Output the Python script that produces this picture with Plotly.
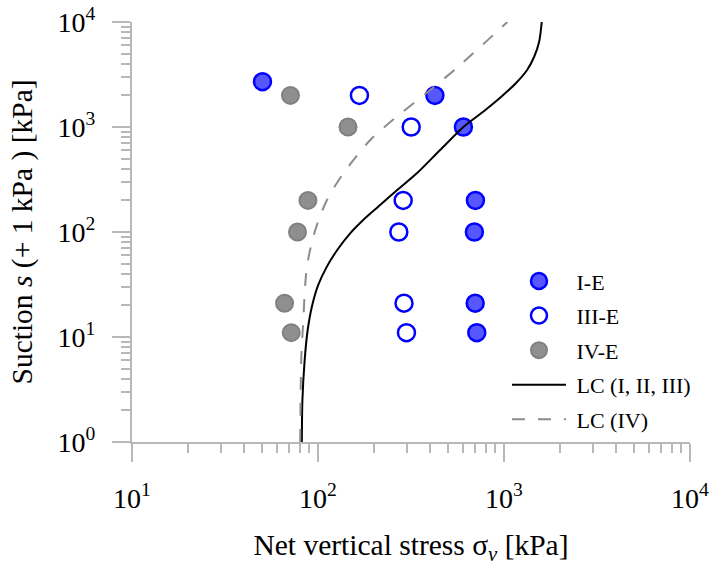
import plotly.graph_objects as go

# ---- data ----
tick_vals = [1, 10, 100, 1000, 10000]
x_tick_text = ["10<sup>0</sup>", "10<sup>1</sup>", "10<sup>2</sup>", "10<sup>3</sup>", "10<sup>4</sup>"]
y_tick_text = ["10<sup>0</sup>", "10<sup>1</sup>", "10<sup>2</sup>", "10<sup>3</sup>", "10<sup>4</sup>"]

ie_stress = [50.3, 425, 605, 702, 693, 700, 714]
ie_suction = [2700, 2000, 1000, 200, 100, 21, 11]

iiie_stress = [167, 317, 287, 272, 290, 299]
iiie_suction = [2000, 1000, 200, 100, 21, 11]

ive_stress = [71.1, 145, 88.3, 77.6, 66.1, 71.8]
ive_suction = [2000, 1000, 200, 100, 21, 11]

lc_stress = [81.85, 82.45, 84.8, 88.0, 92.7, 100.3, 111.6, 126.9, 148.9, 175.0, 210.6,
             266.5, 340.0, 453.6, 605.2, 781.7, 976.8, 1161, 1331, 1451, 1544, 1596]
lc_suction = [1, 2.512, 6.04, 11.66, 19.45, 31.3, 46.8, 67.4, 97.2, 130.2, 174.1,
              251.2, 362.2, 603.9, 1000, 1420, 1974, 2624, 3490, 4642, 6451, 10000]

lc4_stress = [80.2, 81.3, 83.0, 87.2, 96.6, 111.7, 137, 191, 265, 401, 581, 1042]
lc4_suction = [1, 6.27, 12.5, 46.8, 104, 202, 362, 752, 1253, 2250, 3893, 10000]

legend_names = ["I-E", "III-E", "IV-E", "LC (I, II, III)", "LC (IV)"]

FONT = "Liberation Serif"
AX = "#b8b8b8"
NB = "\u00a0"

fig = go.Figure()

fig.add_trace(go.Scatter(
    x=ie_stress, y=ie_suction, mode="markers", name=NB + legend_names[0], legendgroup="a",
    marker=dict(size=17, color="#5757ff", line=dict(color="#0000ff", width=2.5))))
fig.add_trace(go.Scatter(
    x=iiie_stress, y=iiie_suction, mode="markers", name=NB + legend_names[1], legendgroup="b",
    marker=dict(size=17, color="white", line=dict(color="#0000ff", width=2.5))))
fig.add_trace(go.Scatter(
    x=ive_stress, y=ive_suction, mode="markers", name=NB + legend_names[2], legendgroup="c",
    marker=dict(size=17, color="#8f8f8f", line=dict(color="#808080", width=2))))
fig.add_trace(go.Scatter(
    x=lc_stress, y=lc_suction, mode="lines", name=NB + legend_names[3], legendgroup="d",
    line=dict(color="black", width=2, shape="spline", smoothing=0.8)))
fig.add_trace(go.Scatter(
    x=lc4_stress, y=lc4_suction, mode="lines", name=NB + legend_names[4], legendgroup="e",
    line=dict(color="#8c8c8c", width=2, dash="13px,13px", shape="spline", smoothing=0.8)))

axis_common = dict(
    type="log", tickmode="array", tickvals=tick_vals, automargin=False,
    showgrid=False, zeroline=False,
    showline=True, linecolor=AX, linewidth=2,
    ticks="outside", ticklen=18, tickwidth=2, tickcolor=AX,
    tickfont=dict(family=FONT, size=28, color="black"),
    minor=dict(ticks="outside", ticklen=9, tickwidth=1.5, tickcolor=AX, dtick="D1", showgrid=False),
)

fig.update_layout(
    width=713, height=574,
    margin=dict(l=132, r=23, t=22, b=132),
    paper_bgcolor="white", plot_bgcolor="white",
    font=dict(family=FONT, color="black"),
    showlegend=True,
    legend=dict(x=0.672, y=0.433, xanchor="left", yanchor="top",
                font=dict(family=FONT, size=22, color="black"),
                bgcolor="rgba(0,0,0,0)", itemwidth=54, tracegroupgap=3,
                traceorder="grouped"),
)

xa = dict(axis_common)
xa["range"] = [1, 4]
xa["ticktext"] = x_tick_text
xa["title"] = dict(text="Net vertical stress σ<sub><i>v</i></sub> [kPa]",
                   font=dict(family=FONT, size=29.5), standoff=22)
xa["ticklabelstandoff"] = 12
ya = dict(axis_common)
ya["range"] = [0, 4]
ya["ticktext"] = y_tick_text
ya["title"] = dict(text="Suction <i>s</i> (+ 1 kPa ) [kPa]",
                   font=dict(family=FONT, size=29.5), standoff=16)
ya["ticklabelstandoff"] = 11

fig.update_xaxes(**xa)
fig.update_yaxes(**ya)

fig.write_html("out.html")
